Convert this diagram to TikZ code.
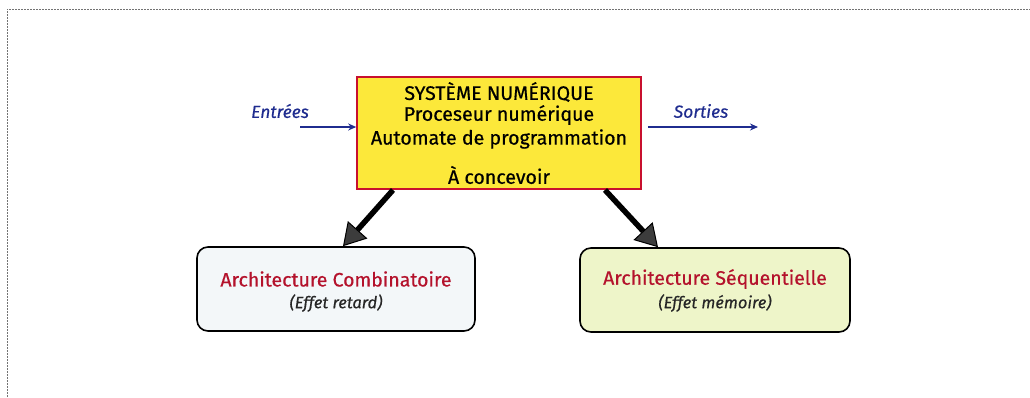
\documentclass[tikz,border=0pt]{standalone}
\usepackage{fontspec}
\setmainfont{Fira Sans}[UprightFeatures={FakeBold=0.5},ItalicFeatures={FakeBold=0.5}]
\usetikzlibrary{arrows.meta}
\definecolor{boxyellow}{HTML}{FCE83A}
\definecolor{boxred}{HTML}{C8102E}
\definecolor{titlered}{HTML}{B4122C}
\definecolor{ioblue}{HTML}{1F2C8F}
\definecolor{leftfill}{HTML}{F3F7F9}
\definecolor{rightfill}{HTML}{EEF5C9}
\definecolor{arrowgray}{HTML}{3C3C3C}
\tikzset{
  sysbox/.style={draw=boxred, line width=1.6pt, fill=boxyellow, minimum width=284pt, minimum height=112pt, inner sep=0pt},
  archbox/.style={draw=black, line width=1.6pt, rounded corners=11pt, minimum height=84pt, inner sep=0pt},
  systext/.style={font=\fontsize{19.6}{22}\selectfont, text=black},
  archtitle/.style={font=\fontsize{19.5}{22}\selectfont, text=titlered},
  archsub/.style={font=\fontsize{16.5}{19}\selectfont\itshape, text=black!85},
  iolabel/.style={font=\fontsize{17.5}{20}\selectfont\itshape, text=ioblue},
  ioarrow/.style={draw=ioblue, line width=1.4pt, -{Stealth[length=8pt,width=7pt]}},
  bigarrow/.style={draw=black, line width=5.5pt, -{Triangle[length=22pt,width=26pt,fill=arrowgray,line width=1pt]}},
  frame/.style={draw=black!55, line width=1pt, dash pattern=on 2pt off 1pt}
}
\begin{document}
\begin{tikzpicture}[x=1pt,y=-1pt]
\useasboundingbox (0,0) rectangle (1030,397);
\coordinate (f1) at (7,397);
\coordinate (f2) at (7,9);
\coordinate (f3) at (1030,9);
\draw[frame] (f1) -- (f2) -- (f3);
% main box
\node[sysbox] (sys) at (499,133) {};
\node[systext] (t1) at (499,92) {SYSTÈME NUMÉRIQUE};
\node[systext] (t2) at (499,115) {Proceseur numérique};
\node[systext] (t3) at (499,139) {Automate de programmation};
\node[systext] (t4) at (499,175) {À concevoir};
% arch boxes
\node[archbox, fill=leftfill, minimum width=278pt] (comb) at (336,289) {};
\node[archtitle] (combt) at (336,279) {Architecture Combinatoire};
\node[archsub] (combs) at (336,303) {(Effet retard)};
\node[archbox, fill=rightfill, minimum width=270pt] (seq) at (715,290) {};
\node[archtitle] (seqt) at (715,279) {Architecture Séquentielle};
\node[archsub] (seqs) at (715,303) {(Effet mémoire)};
% io
\node[iolabel] (in) at (280,111) {Entrées};
\node[iolabel] (out) at (701,111) {Sorties};
\coordinate (ins) at (300,127);
\coordinate (oute) at (758,127);
\draw[ioarrow] (ins) -- (sys.west |- ins);
\draw[ioarrow] (sys.east |- oute) ++(6,0) -- (oute);
% big arrows
\coordinate (a1s) at (393,190);
\coordinate (a2s) at (605,190);
\draw[bigarrow] (a1s) -- (comb.north -| 343,0);
\draw[bigarrow] (a2s) -- (seq.north -| 658,0);
\end{tikzpicture}
\end{document}
